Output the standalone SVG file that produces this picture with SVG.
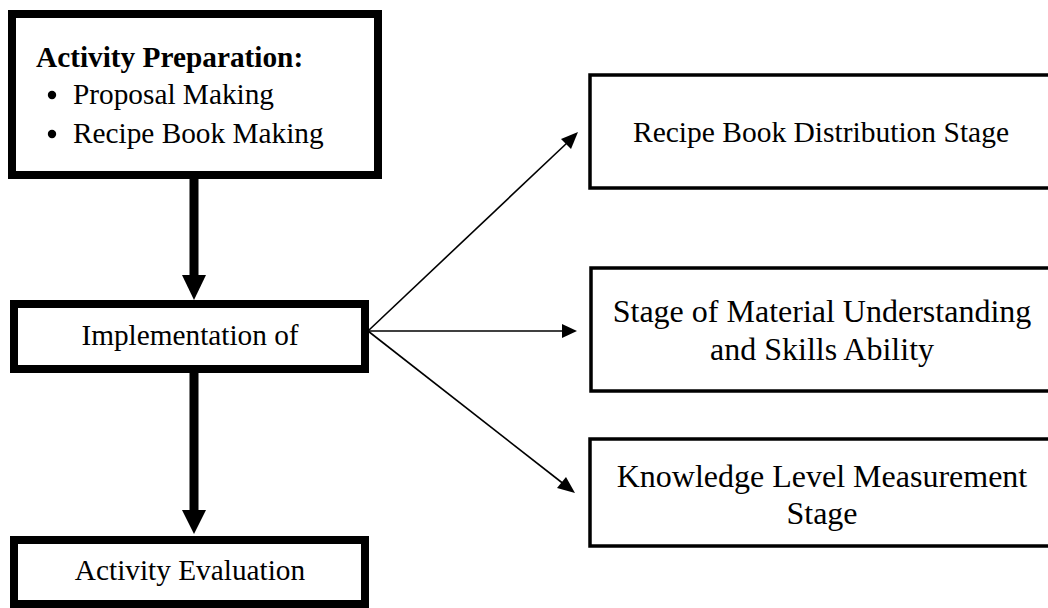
<svg xmlns="http://www.w3.org/2000/svg" width="1048" height="608" viewBox="0 0 1048 608">
<style>
.thick{fill:#fff;stroke:#000;stroke-width:8}
.thin{fill:#fff;stroke:#000;stroke-width:3.5}
.t{font-family:"Liberation Serif","Times New Roman",serif;font-size:29.3px;fill:#000}
.tr{font-family:"Liberation Serif","Times New Roman",serif;font-size:32px;fill:#000}
.tr2{font-family:"Liberation Serif","Times New Roman",serif;font-size:29.5px;fill:#000}
.c{text-anchor:middle}
.b{font-weight:bold}
.ln{stroke:#000;stroke-width:1.6;fill:none}
.big{stroke:#000;stroke-width:9;fill:none}
</style>
<rect width="1048" height="608" fill="#fff"/>
<g id="connectors">
<line class="big" x1="194" y1="179" x2="194" y2="276"/>
<path d="M182,275 L206,275 L194,300 Z" fill="#000"/>
<line class="big" x1="194" y1="372" x2="194" y2="511"/>
<path d="M182,510 L206,510 L194,534 Z" fill="#000"/>
<line class="ln" x1="368" y1="331" x2="568" y2="142"/>
<path d="M578,132 L571,149 L561,139 Z" fill="#000"/>
<line class="ln" x1="368" y1="331" x2="563" y2="331"/>
<path d="M577,331 L562,324 L562,338 Z" fill="#000"/>
<line class="ln" x1="368" y1="331" x2="565" y2="485"/>
<path d="M575,493 L557,488 L566,477 Z" fill="#000"/>
</g>
<g id="prep">
<rect class="thick" x="12" y="14" width="366" height="161"/>
<text class="t b" x="36" y="67">Activity Preparation:</text>
<circle cx="52" cy="95" r="4.2" fill="#000"/>
<text class="t" x="73" y="104">Proposal Making</text>
<circle cx="52" cy="134" r="4.2" fill="#000"/>
<text class="t" x="73" y="143">Recipe Book Making</text>
</g>
<g id="impl">
<rect class="thick" x="14" y="304" width="351" height="65"/>
<text class="t c" x="190" y="345">Implementation of</text>
</g>
<g id="eval">
<rect class="thick" x="14" y="540" width="351" height="64"/>
<text class="t c" x="190" y="580">Activity Evaluation</text>
</g>
<g id="dist">
<rect class="thin" x="590" y="75" width="470" height="113"/>
<text class="tr2 c" x="821" y="142">Recipe Book Distribution Stage</text>
</g>
<g id="understand">
<rect class="thin" x="591" y="268" width="470" height="123"/>
<text class="tr c" x="822" y="322">Stage of Material Understanding</text>
<text class="tr c" x="822" y="360">and Skills Ability</text>
</g>
<g id="measure">
<rect class="thin" x="590" y="439" width="470" height="107"/>
<text class="tr c" x="822" y="487">Knowledge Level Measurement</text>
<text class="tr c" x="822" y="524">Stage</text>
</g>
</svg>
